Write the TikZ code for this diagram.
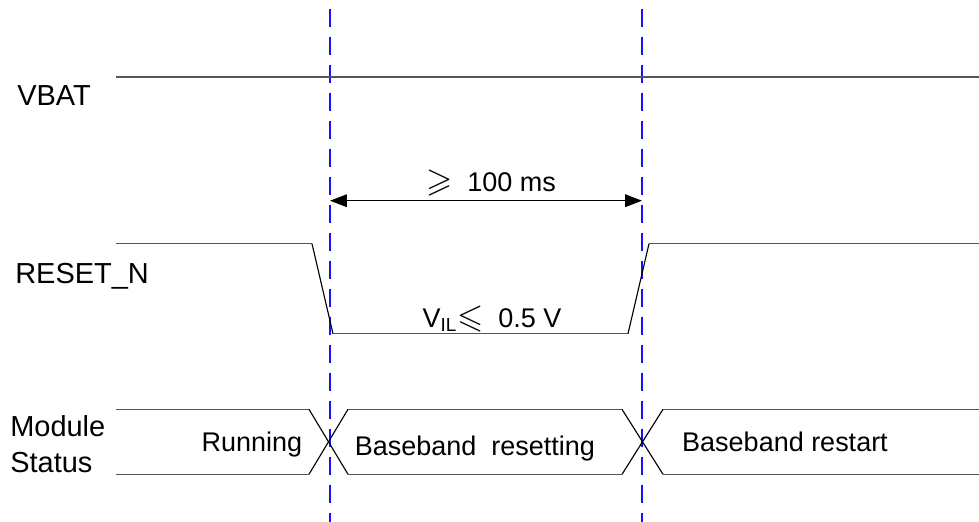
\documentclass[tikz,border=0pt]{standalone}
\usepackage{amssymb}
\usepackage{fontspec}
\setmainfont{Liberation Sans}
\definecolor{trazo}{RGB}{85,85,85}
\definecolor{azul}{RGB}{20,20,255}
\usetikzlibrary{arrows.meta,calc,positioning}
\tikzstyle{signal}=[draw=trazo, line width=1.1pt]
\tikzstyle{edge}=[draw=black, line width=0.8pt]
\tikzstyle{marker}=[draw=azul, line width=0.75pt,
                    dash pattern=on 12.8pt off 7.1pt]
\tikzstyle{span}=[draw=black, line width=0.9pt,
                  {Triangle[length=12pt,width=9pt]}-{Triangle[length=12pt,width=9pt]}]
\tikzstyle{siglabel}=[anchor=base west, inner sep=0pt, align=left,
                      font=\fontsize{20.6}{25.6}\selectfont]
\tikzstyle{statelabel}=[anchor=base, inner sep=0pt,
                        font=\fontsize{19.2}{23}\selectfont]
\newcommand{\bigrel}[1]{{\fontsize{24}{24}\selectfont$#1$}}

\begin{document}
\begin{tikzpicture}[x=0.25mm,y=-0.25mm]

    \useasboundingbox (0,0) rectangle (979,522);

    % signal names
    \node (vbat) [siglabel] at (17,106) {VBAT};
    \node (rst) [siglabel] at (15,283) {RESET\_N};
    \node (mod) [siglabel] at (10,472) {Module\\Status};

    % time markers
    \foreach \n/\x in {a/330,b/642} {
        \coordinate (\n top) at (\x,9);
        \coordinate (\n bot) at (\x,522);
        \draw [marker] (\n top) -- (\n bot);
    }

    % VBAT
    \coordinate (v0) at (116,77);
    \coordinate (v1) at (979,77);
    \draw [signal] (v0) -- (v1);

    % RESET_N
    \coordinate (r0) at (116,243.7);
    \coordinate (r1) at (312,243.7);
    \coordinate (r2) at (333,333.7);
    \coordinate (r3) at (628,333.7);
    \coordinate (r4) at (649,243.7);
    \coordinate (r5) at (979,243.7);
    \foreach \i/\j in {r0/r1,r2/r3,r4/r5}
        \draw [signal] (\i) -- (\j);
    \foreach \i/\j in {r1/r2,r3/r4}
        \draw [edge] (\i) -- (\j);

    % reset pulse width
    \coordinate (p0) at (330,200.7);
    \coordinate (p1) at (642,200.7);
    \draw [span] (p0) -- (p1);
    \node (width) [statelabel] at (491,192) {\bigrel{\geqslant}\ \ 100 ms};
    \node (vil) [statelabel] at (492,327) {V\textsubscript{IL}\bigrel{\leqslant}\ \ 0.5 V};

    % module status bus
    \foreach \n/\x in {0/116,1/309,2/348,3/622,4/663,5/979} {
        \coordinate (t\n) at (\x,409.3);
        \coordinate (b\n) at (\x,474.3);
    }
    \foreach \i/\j in {0/1,2/3,4/5} {
        \draw [signal] (t\i) -- (t\j);
        \draw [signal] (b\i) -- (b\j);
    }
    \foreach \i/\j in {1/2,3/4} {
        \draw [edge] (t\i) -- (b\j);
        \draw [edge] (b\i) -- (t\j);
    }
    \node (run) [statelabel] at (252,451.7) {Running};
    \node (bbrs) [statelabel] at (475,455) {Baseband\ \ resetting};
    \node (bbrt) [statelabel] at (785,451.7) {Baseband restart};

\end{tikzpicture}
\end{document}
